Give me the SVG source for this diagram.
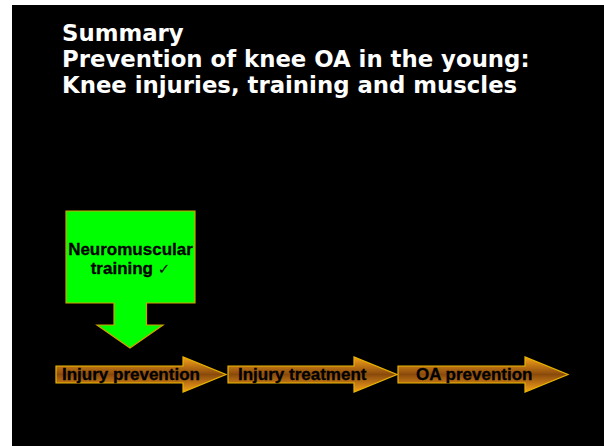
<svg xmlns="http://www.w3.org/2000/svg" width="604" height="446" viewBox="0 0 604 446">
<defs>
<linearGradient id="og" x1="0" y1="0" x2="0" y2="1">
<stop offset="0" stop-color="#f7a21b"/>
<stop offset="0.5" stop-color="#8a4a0c"/>
<stop offset="1" stop-color="#f7a21b"/>
</linearGradient>
<style>
.title{font-family:"DejaVu Sans",Verdana,sans-serif;font-weight:bold;font-size:22.8px;fill:#fff}
.arr{fill:url(#og);stroke:#e8b400;stroke-width:1.2}
.lbl{font-family:"Liberation Sans",Arial,sans-serif;font-weight:bold;font-size:17px;fill:#000;stroke:#000;stroke-width:0.3}
</style>
</defs>
<rect width="604" height="446" fill="#fff"/>
<rect x="12" y="5" width="592" height="441" fill="#000"/>
<g id="title">
<text class="title" x="62" y="41">Summary</text>
<text class="title" x="62" y="67">Prevention of knee OA in the young:</text>
<text class="title" x="62" y="93">Knee injuries, training and muscles</text>
</g>
<g id="training">
<path d="M66,211 H195 V303 H146.5 V325 H163 L130,348 L97,325 H114 V303 H66 Z" fill="#00ff00" stroke="#d4a000" stroke-width="1.2"/>
<text class="lbl" x="130.5" y="254.5" text-anchor="middle" font-size="16.3">Neuromuscular</text>
<text class="lbl" x="130.5" y="273.5" text-anchor="middle" font-size="16.3">training <tspan font-family="DejaVu Sans" font-weight="normal" font-size="15" stroke-width="0">✓</tspan></text>
</g>
<g id="injury-prevention">
<path class="arr" d="M56,366 H183 V357 L226,374.5 L183,392 V383 H56 Z"/>
<text class="lbl" x="62" y="380">Injury prevention</text>
</g>
<g id="injury-treatment">
<path class="arr" d="M228,366 H354 V357 L397,374.5 L354,392 V383 H228 Z"/>
<text class="lbl" x="238" y="380">Injury treatment</text>
</g>
<g id="oa-prevention">
<path class="arr" d="M398,366 H525 V357 L568,374.5 L525,392 V383 H398 Z"/>
<text class="lbl" x="416" y="380">OA prevention</text>
</g>
</svg>
